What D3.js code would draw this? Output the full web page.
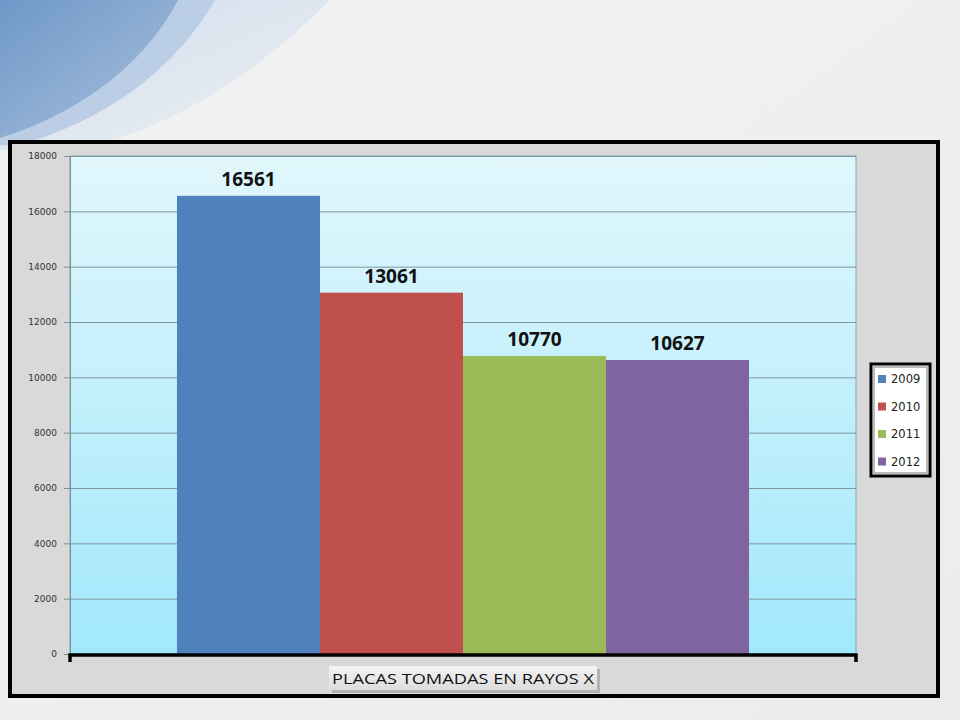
<!DOCTYPE html>
<html><head><meta charset="utf-8">
<script src="https://cdn.jsdelivr.net/npm/d3@7"></script>
<style>body{margin:0;padding:0;background:#eee;}svg{display:block;}</style>
</head><body>
<svg id="c" width="960" height="720"></svg>
<script>
const categories = ["PLACAS TOMADAS EN RAYOS X"];
const seriesNames = ["2009", "2010", "2011", "2012"];
const seriesValues = [16561, 13061, 10770, 10627];
const seriesColors = ["#4f81bd", "#c0504d", "#9bbb59", "#8064a2"];
const yTicks = [0, 2000, 4000, 6000, 8000, 10000, 12000, 14000, 16000, 18000];

const svg = d3.select("#c");
const defs = svg.append("defs");

// slide background
const bg = defs.append("linearGradient").attr("id","bg").attr("x1","0").attr("y1","0").attr("x2","1").attr("y2","1");
bg.append("stop").attr("offset","0").attr("stop-color","#f2f2f2");
bg.append("stop").attr("offset","1").attr("stop-color","#ececec");
svg.append("rect").attr("width",960).attr("height",720).attr("fill","url(#bg)");

const arcG1 = defs.append("linearGradient").attr("id","arc1").attr("x1","0").attr("y1","0").attr("x2","1").attr("y2","1");
arcG1.append("stop").attr("offset","0").attr("stop-color","#c6d6ea");
arcG1.append("stop").attr("offset","1").attr("stop-color","#eef1f5");
const arcG2 = defs.append("linearGradient").attr("id","arc2").attr("x1","0").attr("y1","0").attr("x2","1").attr("y2","1");
arcG2.append("stop").attr("offset","0").attr("stop-color","#6f98c8");
arcG2.append("stop").attr("offset","1").attr("stop-color","#a9c0dc");
svg.append("path").attr("d","M0,0 L330,0 C260,70 180,125 80,150 L0,150 Z").attr("fill","url(#arc1)").attr("opacity",0.8);
svg.append("path").attr("d","M0,0 L215,0 C180,60 120,115 20,145 L0,145 Z").attr("fill","#b2c8e2").attr("opacity",0.8);
svg.append("path").attr("d","M0,0 L178,0 C150,55 90,110 0,138 Z").attr("fill","url(#arc2)");

// chart frame
svg.append("rect").attr("x",10).attr("y",142).attr("width",928).attr("height",554)
  .attr("fill","#d9d9d9").attr("stroke","#000").attr("stroke-width",4);

const plot = {x0:70, x1:856, y0:156, y1:654};
const y = d3.scaleLinear().domain([0,18000]).range([plot.y1, plot.y0]);
const x = d3.scaleBand().domain(categories).range([plot.x0, plot.x1]).paddingOuter(0.187).paddingInner(0);
const xs = d3.scaleBand().domain(seriesNames).range([0, x.bandwidth()]);

const pg = defs.append("linearGradient").attr("id","pg").attr("x1","0").attr("y1","0").attr("x2","0").attr("y2","1");
pg.append("stop").attr("offset","0").attr("stop-color","#e1f7fc");
pg.append("stop").attr("offset","1").attr("stop-color","#a2e8fc");
svg.append("rect").attr("x",plot.x0).attr("y",plot.y0).attr("width",plot.x1-plot.x0).attr("height",plot.y1-plot.y0)
  .attr("fill","url(#pg)").attr("stroke","#7fa8b0").attr("stroke-width",1);

// gridlines + y axis
const yAxis = d3.axisLeft(y).tickValues(yTicks).tickSize(6).tickFormat(d3.format("d"));
const yg = svg.append("g").attr("transform",`translate(${plot.x0},0)`).call(yAxis);
yg.select(".domain").attr("stroke","#7f8f96");
yg.selectAll(".tick line").attr("stroke","#7f8f96");
yg.selectAll(".tick text").attr("font-family","'DejaVu Sans', sans-serif").attr("font-size",9).attr("fill","#333").attr("x",-13);
svg.append("g").selectAll("line").data(yTicks.filter(d=>d>0)).join("line")
  .attr("x1",plot.x0).attr("x2",plot.x1).attr("y1",d=>y(d)+0.5).attr("y2",d=>y(d)+0.5)
  .attr("stroke","#7f979e").attr("stroke-width",1);

// bars
const data = seriesNames.map((s,i)=>({s, v:seriesValues[i], c:seriesColors[i]}));
const bx = x(categories[0]);
svg.append("g").selectAll("rect").data(data).join("rect")
  .attr("x",d=>bx+xs(d.s)).attr("width",xs.bandwidth())
  .attr("y",d=>y(d.v)).attr("height",d=>y(0)-y(d.v)).attr("fill",d=>d.c);

// data labels
svg.append("g").selectAll("text").data(data).join("text")
  .attr("x",d=>bx+xs(d.s)+xs.bandwidth()/2).attr("y",d=>y(d.v)-10)
  .attr("text-anchor","middle").attr("font-family","'Open Sans', sans-serif").attr("font-weight","bold")
  .attr("font-size",19).attr("fill","#111").text(d=>d.v);

// x axis
svg.append("path").attr("d",`M${plot.x0},${plot.y1+8} V${plot.y1+1} H${plot.x1} V${plot.y1+8}`)
  .attr("fill","none").attr("stroke","#000").attr("stroke-width",3.5);

// axis title box
const tg = defs.append("linearGradient").attr("id","tg").attr("x1","0").attr("y1","0").attr("x2","0").attr("y2","1");
tg.append("stop").attr("offset","0").attr("stop-color","#f4f4f4");
tg.append("stop").attr("offset","1").attr("stop-color","#dcdcdc");
const tcx = x(categories[0]) + x.bandwidth()/2;
svg.append("rect").attr("x",tcx-134+3).attr("y",666+3).attr("width",268).attr("height",24).attr("fill","#999").attr("opacity",0.6);
svg.append("rect").attr("x",tcx-134).attr("y",666).attr("width",268).attr("height",24).attr("fill","url(#tg)");
svg.append("text").attr("x",tcx).attr("y",684).attr("text-anchor","middle")
  .attr("font-family","'Open Sans', sans-serif").attr("font-size",15).attr("fill","#111")
  .attr("textLength",262).attr("lengthAdjust","spacingAndGlyphs").text(categories[0]);

// legend
const lg = svg.append("g").attr("transform","translate(871,364)");
lg.append("rect").attr("width",59).attr("height",112).attr("fill","#fff").attr("stroke","#000").attr("stroke-width",3);
lg.append("rect").attr("x",3).attr("y",3).attr("width",53).attr("height",106).attr("fill","none").attr("stroke","#777").attr("stroke-width",1);
const li = lg.selectAll("g").data(data).join("g").attr("transform",(d,i)=>`translate(7,${15+i*27.5})`);
li.append("rect").attr("y",-4).attr("width",8).attr("height",8).attr("fill",d=>d.c);
li.append("text").attr("x",13).attr("y",4).attr("font-family","'DejaVu Sans', sans-serif").attr("font-size",11.5).attr("fill","#222").text(d=>d.s);
</script>
</body></html>
